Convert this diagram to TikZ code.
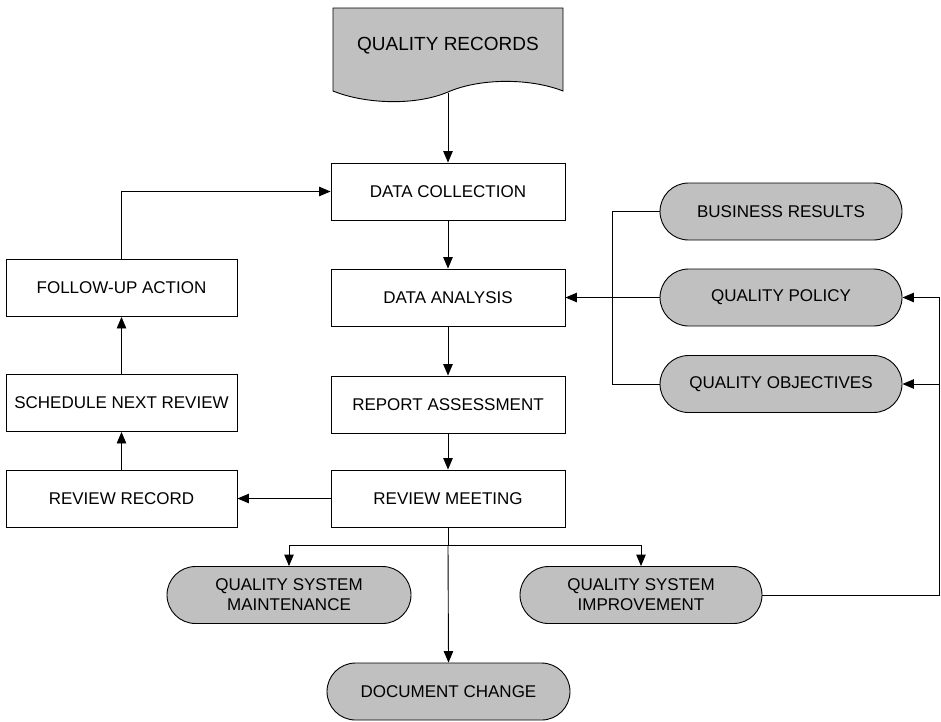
\documentclass[tikz,border=0pt]{standalone}
\usepackage{fontspec}
\setmainfont{Liberation Sans}
\usetikzlibrary{arrows.meta}
\definecolor{fillgrey}{RGB}{192,192,192}
\tikzset{
  x=1pt, y=-1pt,
  every node/.style={font=\fontsize{17}{20}\selectfont, align=center, inner sep=0pt},
  box/.style={draw, line width=0.9pt, fill=white, minimum height=57pt},
  mainbox/.style={box, minimum width=234pt},
  sidebox/.style={box, minimum width=231pt},
  pill/.style={draw, line width=0.9pt, fill=fillgrey, rounded corners=28.5pt,
               minimum width=242pt, minimum height=57pt},
  conn/.style={line width=0.9pt},
  arrow/.style={conn, -{Triangle[length=11.5pt,width=9.5pt]}},
}
\begin{document}
\begin{tikzpicture}
\useasboundingbox (0,0) rectangle (941,721);

% document symbol
\draw[line width=0.9pt, fill=fillgrey]
  (333,8) -- (563,8) -- (563,91)
  .. controls (530,78) and (480,78) .. (448,92)
  .. controls (415,106) and (365,104) .. (333,91) -- cycle;
\node (qr) at (448,46) {\fontsize{19}{22}\selectfont QUALITY RECORDS};
\coordinate (qrb) at (448,93);

% central column
\node[mainbox] (dc) at (448,191.5) {DATA COLLECTION};
\node[mainbox] (da) at (448,297.5) {DATA ANALYSIS};
\node[mainbox] (ra) at (448,404.5) {REPORT ASSESSMENT};
\node[mainbox] (rm) at (448,498.5) {REVIEW MEETING};

% left column
\node[sidebox] (fua) at (121.5,288) {FOLLOW-UP ACTION};
\node[sidebox] (snr) at (121.5,403) {SCHEDULE NEXT REVIEW};
\node[sidebox] (rr) at (121.5,498.5) {REVIEW RECORD};

% inputs on the right
\node[pill] (br) at (781,211.5) {BUSINESS RESULTS};
\node[pill] (qp) at (781,297.5) {QUALITY POLICY};
\node[pill] (qo) at (781,384) {QUALITY OBJECTIVES};

% outputs
\node[pill, minimum width=244pt] (qsm) at (289,595) {QUALITY SYSTEM\\MAINTENANCE};
\node[pill] (qsi) at (641,595) {QUALITY SYSTEM\\IMPROVEMENT};
\node[pill, minimum width=243pt] (dch) at (448.5,691.5) {DOCUMENT CHANGE};

% main flow
\draw[arrow] (qrb) -- (dc.north);
\draw[arrow] (dc) -- (da);
\draw[arrow] (da) -- (ra);
\draw[arrow] (ra) -- (rm);
\draw[arrow] (rm.west) -- (rr.east);
\draw[arrow] (rr) -- (snr);
\draw[arrow] (snr) -- (fua);
\draw[arrow] (fua.north) |- (dc.west);

% inputs into data analysis
\coordinate (bk) at (612,211.5);
\draw[conn] (br.west) -- (bk) |- (qo.west);
\draw[arrow] (qp.west) -- (da.east);

% outputs of the review meeting
\coordinate (split) at (448,545);
\draw[conn] (rm.south) -- (split);
\draw[arrow] (split) -- (dch.north);
\draw[arrow] (split) -| (qsm.north);
\draw[arrow] (split) -| (qsi.north);

% improvement feeds back to policy and objectives
\coordinate (rx) at (939.5,297.5);
\draw[conn] (qsi.east) -| (rx);
\draw[arrow] (rx) -- (qp.east);
\draw[arrow] (rx |- qo.east) -- (qo.east);
\end{tikzpicture}
\end{document}
